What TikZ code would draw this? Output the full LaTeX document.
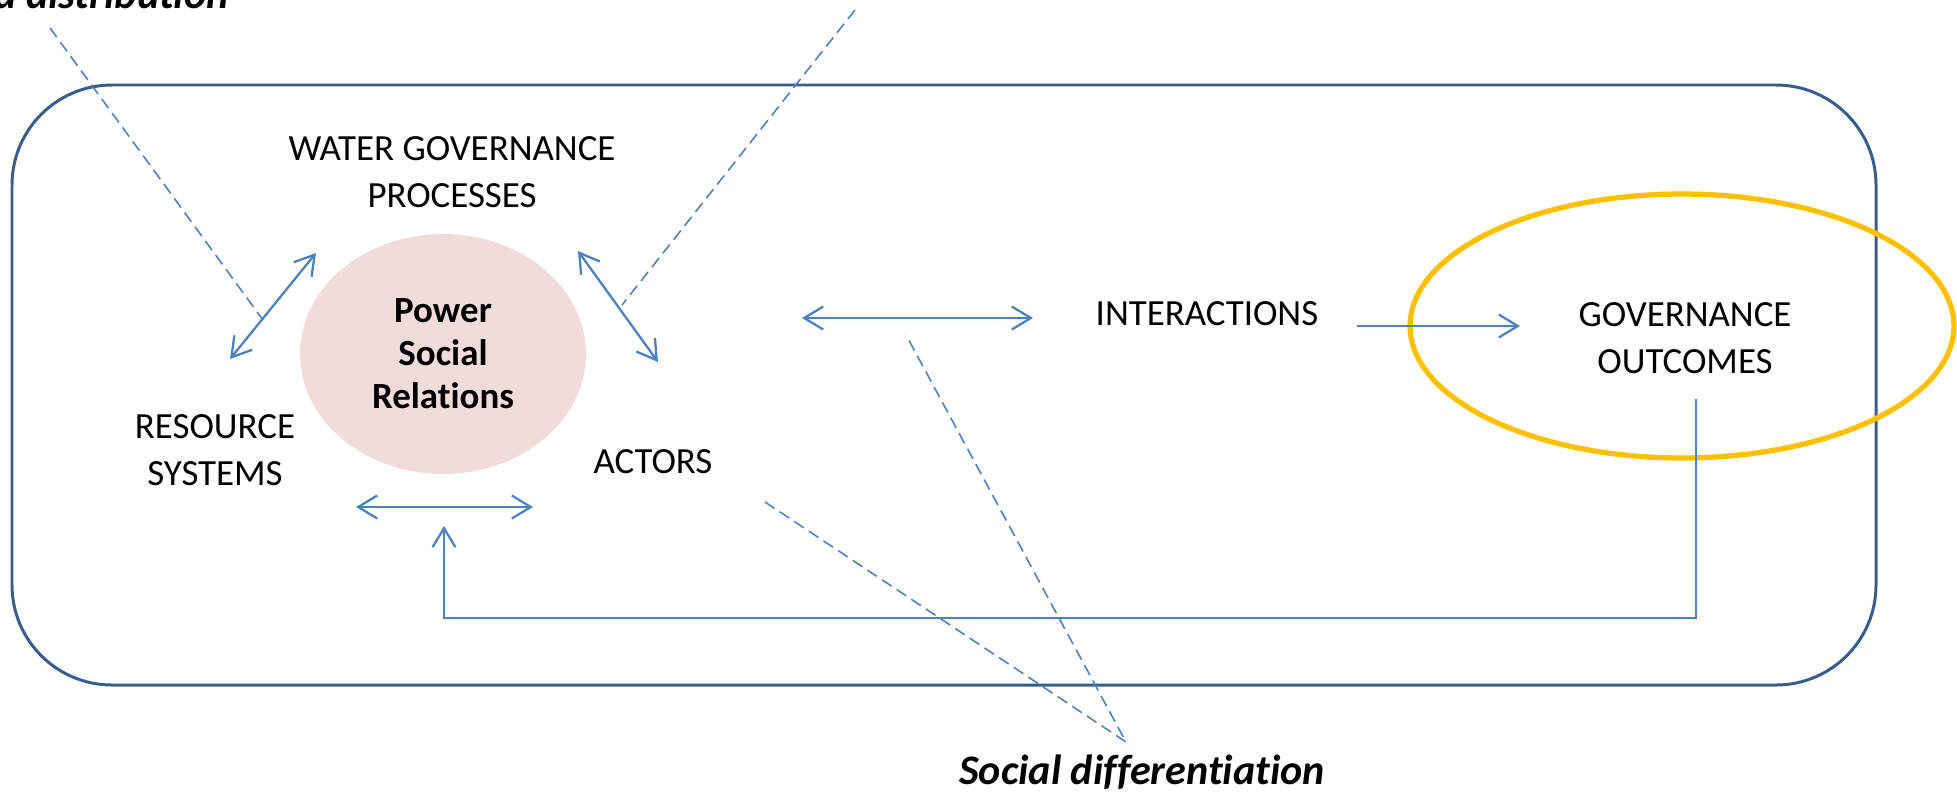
\documentclass[tikz,border=0pt]{standalone}
\usepackage{fontspec}
\setmainfont{Carlito}[Ligatures={NoCommon}]
\usepackage{tikz}
\usetikzlibrary{arrows.meta,positioning,shapes.geometric}
\definecolor{framecol}{HTML}{385D8A}
\definecolor{linkcol}{HTML}{4F81BD}
\definecolor{pinkfill}{HTML}{F2DCDB}
\definecolor{goldring}{HTML}{FFC000}
\begin{document}
\begin{tikzpicture}[x=0.02cm,y=-0.02cm,>={Straight Barb[length=0.38cm,width=0.46cm]},
                    lbl/.style={align=center,font=\fontsize{21}{27}\selectfont},
                    note/.style={font=\fontsize{24}{28}\selectfont\bfseries\itshape},
                    link/.style={draw=linkcol,line width=1.3pt},
                    hint/.style={draw=linkcol,line width=0.9pt,dash pattern=on 6.5pt off 3.5pt}]
  \useasboundingbox (0,0) rectangle (1957,794);

  \draw[framecol,line width=1.7pt,rounded corners=2cm] (12,85) rectangle (1876,685);

  \node[ellipse,fill=pinkfill,minimum width=5.72cm,minimum height=4.8cm,
        lbl,font=\fontsize{21}{24.5}\selectfont\bfseries] (power) at (443,354) {Power\\Social\\Relations};
  \node[ellipse,draw=goldring,line width=3pt,minimum width=10.88cm,minimum height=5.28cm] (ring) at (1682,326) {};

  \node[lbl] (water) at (452,172) {WATER GOVERNANCE\\PROCESSES};
  \node[lbl] (resource) at (215,450) {RESOURCE\\SYSTEMS};
  \node[lbl] (actors) at (653,462) {ACTORS};
  \node[lbl] (interact) at (1207,314) {INTERACTIONS};
  \node[lbl] (outcomes) at (1685,338) {GOVERNANCE\\OUTCOMES};

  \node[note,anchor=base] (socdiff) at (1142,784) {Social differentiation};
  \node[note,anchor=base west,inner sep=0pt] (distrib) at (-6,9) {d distribution};

  \coordinate (rs1) at (230,359);  \coordinate (rs2) at (316,253);
  \coordinate (ac1) at (578,251);  \coordinate (ac2) at (658,362);
  \coordinate (bt1) at (356,507);  \coordinate (bt2) at (533,507);
  \coordinate (mi1) at (802,318);  \coordinate (mi2) at (1033,318);
  \coordinate (io1) at (1357,326); \coordinate (io2) at (1520,326);
  \coordinate (fb1) at (1696,399); \coordinate (fbc) at (444,618);
  \coordinate (fb2) at (444,526);
  \coordinate (d1) at (50,28);     \coordinate (d2) at (263,320);
  \coordinate (d3) at (855,10);    \coordinate (d4) at (622,305);
  \coordinate (d5) at (765,502);   \coordinate (d6) at (906,335);
  \coordinate (sd) at (1126,742);

  \path[link] (rs1) edge[<->] (rs2)
              (ac1) edge[<->] (ac2)
              (bt1) edge[<->] (bt2)
              (mi1) edge[<->] (mi2)
              (io1) edge[->] (io2);
  \draw[link,->] (fb1) |- (fbc) -- (fb2);

  \draw[hint] (d1) -- (d2);
  \draw[hint] (d3) -- (d4);
  \draw[hint] (d5) -- (sd) -- (d6);
\end{tikzpicture}
\end{document}
